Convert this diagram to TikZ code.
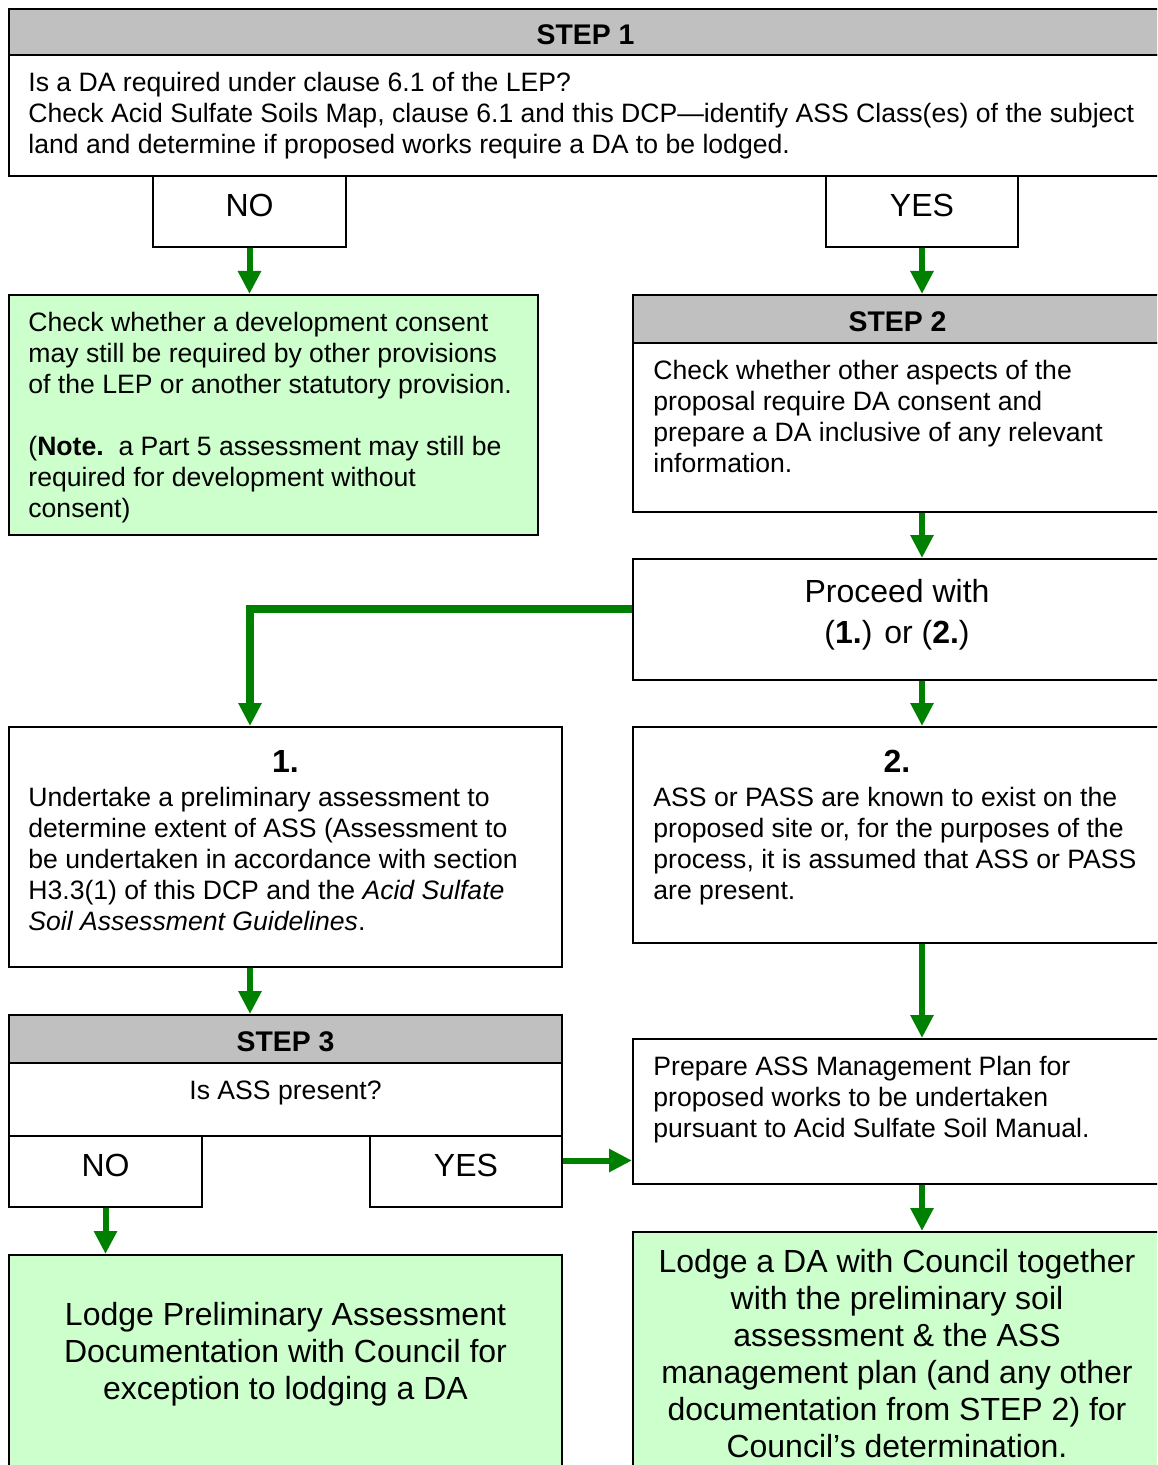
\documentclass[tikz,border=0pt]{standalone}
\usepackage{fontspec}
\setmainfont{Liberation Sans}
\usetikzlibrary{arrows.meta,calc,fit}

\definecolor{headgray}{HTML}{C0C0C0}
\definecolor{palegreen}{HTML}{CCFFCC}
\definecolor{flowgreen}{HTML}{008000}

\tikzset{
  box/.style={draw=black, line width=1pt, inner sep=0pt, fill=white},
  headbox/.style={box, fill=headgray},
  headtxt/.style={inner sep=0pt, font=\fontsize{14.2}{16}\selectfont\bfseries},
  outcome/.style={box, fill=palegreen},
  txt/.style={inner sep=0pt, align=left, anchor=north west, font=\fontsize{13.3}{15.5}\selectfont},
  bigtxt/.style={inner sep=0pt, align=center, anchor=north, font=\fontsize{16}{18.5}\selectfont},
  choicetxt/.style={inner sep=0pt, font=\fontsize{16}{19}\selectfont},
  numtxt/.style={inner sep=0pt, anchor=north, font=\fontsize{16}{19}\selectfont\bfseries},
  flow/.style={draw=flowgreen, line width=3pt, -{Triangle[width=11pt,length=11.5pt]}},
}

\begin{document}
\begin{tikzpicture}[x=0.5pt,y=-0.5pt]
\useasboundingbox (0,0) rectangle (1157,1465);
\clip (0,0) rectangle (1157,1465);
\fill[white] (0,0) rectangle (1157,1465);

% STEP 1
\node[headbox, fit={(9,9)(1162,55)}] (s1head) {};
\node[headtxt] (s1title) at ($(s1head.center)+(0,3)$) {STEP 1};
\node[box, fit={(9,55)(1162,176)}] (s1body) {};
\node[txt] (s1text) at (28,72) {Is a DA required under clause 6.1 of the LEP?\\
  Check Acid Sulfate Soils Map, clause 6.1 and this DCP---identify ASS Class(es) of the subject\\
  land and determine if proposed works require a DA to be lodged.};

\node[box, fit={(153,176)(346,247)}] (no1) {};
\node[choicetxt] (no1lab) at ($(no1.center)+(0,-6)$) {NO};
\node[box, fit={(826,176)(1018,247)}] (yes1) {};
\node[choicetxt] (yes1lab) at ($(yes1.center)+(0,-6)$) {YES};

% no DA needed
\node[outcome, fit={(9,295)(538,535)}] (outcome1) {};
\node[txt] (outcome1text) at (28,312) {Check whether a development consent\\
  may still be required by other provisions\\
  of the LEP or another statutory provision.\\[15.5pt]
  (\textbf{Note.}\ \ a Part 5 assessment may still be\\
  required for development without\\
  consent)};

% STEP 2
\node[headbox, fit={(633,295)(1162,343)}] (s2head) {};
\node[headtxt] (s2title) at ($(s2head.center)+(0,3)$) {STEP 2};
\node[box, fit={(633,343)(1162,512)}] (s2body) {};
\node[txt] (s2text) at (653,360) {Check whether other aspects of the\\
  proposal require DA consent and\\
  prepare a DA inclusive of any relevant\\
  information.};

\node[box, fit={(633,559)(1162,680)}] (proceed) {};
\node[bigtxt] (proceedtext) at (897,579) {Proceed with\\[2pt]
  (\textbf{1.}) or (\textbf{2.})};

% option 1
\node[box, fit={(9,727)(562,967)}] (one) {};
\node[numtxt] (onenum) at (285.5,750) {1.};
\node[txt] (onetext) at (28,787) {Undertake a preliminary assessment to\\
  determine extent of ASS (Assessment to\\
  be undertaken in accordance with section\\
  H3.3(1) of this DCP and the \textit{Acid Sulfate}\\
  \textit{Soil Assessment Guidelines}.};

% option 2
\node[box, fit={(633,727)(1162,943)}] (two) {};
\node[numtxt] (twonum) at (897,750) {2.};
\node[txt] (twotext) at (653,787) {ASS or PASS are known to exist on the\\
  proposed site or, for the purposes of the\\
  process, it is assumed that ASS or PASS\\
  are present.};

% STEP 3
\node[headbox, fit={(9,1015)(562,1063)}] (s3head) {};
\node[headtxt] (s3title) at ($(s3head.center)+(0,3)$) {STEP 3};
\node[box, fit={(9,1063)(562,1136)}] (s3body) {};
\node[txt, anchor=north] (s3text) at (285.5,1081) {Is ASS present?};
\node[box, fit={(9,1136)(202,1207)}] (no3) {};
\node[choicetxt] (no3lab) at ($(no3.center)+(0,-6)$) {NO};
\node[box, fit={(370,1136)(562,1207)}] (yes3) {};
\node[choicetxt] (yes3lab) at ($(yes3.center)+(0,-6)$) {YES};

\node[box, fit={(633,1039)(1162,1184)}] (prepare) {};
\node[txt] (preparetext) at (653,1056) {Prepare ASS Management Plan for\\
  proposed works to be undertaken\\
  pursuant to Acid Sulfate Soil Manual.};

% lodging
\node[outcome, fit={(9,1255)(562,1480)}] (lodge1) {};
\node[bigtxt] (lodge1text) at (285.5,1302) {Lodge Preliminary Assessment\\
  Documentation with Council for\\
  exception to lodging a DA};
\node[outcome, fit={(633,1232)(1162,1480)}] (lodge2) {};
\node[bigtxt] (lodge2text) at (897,1249) {Lodge a DA with Council together\\
  with the preliminary soil\\
  assessment \& the ASS\\
  management plan (and any other\\
  documentation from STEP 2) for\\
  Council’s determination.};

% connectors
\coordinate (lcol) at (250,0);
\coordinate (rcol) at (922,0);
\coordinate (yes3out) at ($(yes3.east)+(0,-11)$);
\draw[flow] (no1.south) -- (no1.south |- outcome1.north);
\draw[flow] (yes1.south) -- (yes1.south |- s2head.north);
\draw[flow] (rcol |- s2body.south) -- (rcol |- proceed.north);
\draw[flow, line width=4pt] ($(proceed.west)+(0,-11)$) -| (lcol |- one.north);
\draw[flow] (rcol |- proceed.south) -- (rcol |- two.north);
\draw[flow] (lcol |- one.south) -- (lcol |- s3head.north);
\draw[flow] (rcol |- two.south) -- (rcol |- prepare.north);
\draw[flow] (yes3out) -- (yes3out -| prepare.west);
\draw[flow] (no3.south) -- (no3.south |- lodge1.north);
\draw[flow] (rcol |- prepare.south) -- (rcol |- lodge2.north);
\end{tikzpicture}
\end{document}
